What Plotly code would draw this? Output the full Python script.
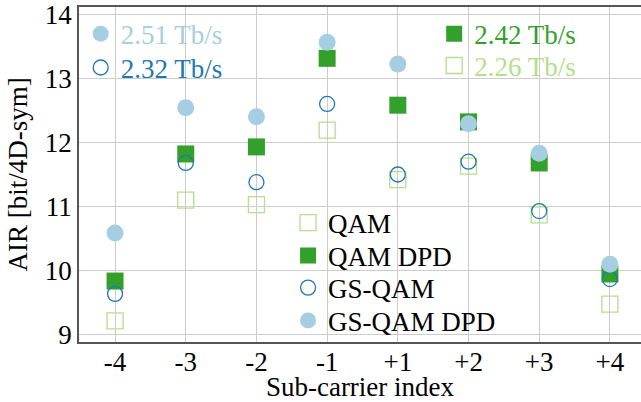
import plotly.graph_objects as go

categories = ["-4", "-3", "-2", "-1", "+1", "+2", "+3", "+4"]
qam = [9.22, 11.10, 11.03, 12.19, 11.42, 11.63, 10.87, 9.48]
qam_dpd = [9.84, 11.82, 11.93, 13.31, 12.58, 12.32, 11.68, 9.95]
gs_qam = [9.64, 11.68, 11.38, 12.60, 11.50, 11.70, 10.93, 9.87]
gs_qam_dpd = [10.59, 12.54, 12.40, 13.56, 13.22, 12.29, 11.83, 10.10]
rate_labels = ["2.51 Tb/s", "2.32 Tb/s", "2.42 Tb/s", "2.26 Tb/s"]
y_ticks = [9, 10, 11, 12, 13, 14]

C_LB = "#a6cee3"
C_DB = "#1f78b4"
C_DG = "#33a02c"
C_LG = "#b2df8a"
FONT = "Liberation Serif"
FS = 27

M_QAM = dict(symbol="square-open", size=16, color=C_LG, line=dict(width=1.3, color=C_LG))
M_QAMD = dict(symbol="square", size=17, color=C_DG, line=dict(width=0))
M_GS = dict(symbol="circle-open", size=15, color=C_DB, line=dict(width=1.3, color=C_DB))
M_GSD = dict(symbol="circle", size=17, color=C_LB, line=dict(width=0))

fig = go.Figure()

fig.add_trace(go.Scatter(x=categories, y=qam, mode="markers", name="QAM",
                         marker=M_QAM, legend="legend"))
fig.add_trace(go.Scatter(x=categories, y=qam_dpd, mode="markers", name="QAM DPD",
                         marker=M_QAMD, legend="legend4"))
fig.add_trace(go.Scatter(x=categories, y=gs_qam, mode="markers", name="GS-QAM",
                         marker=M_GS, legend="legend5"))
fig.add_trace(go.Scatter(x=categories, y=gs_qam_dpd, mode="markers", name="GS-QAM DPD",
                         marker=M_GSD, legend="legend6"))

# rate legends (top)
rate_specs = [(rate_labels[0], C_LB, M_GSD, "legend2"),
              (rate_labels[1], C_DB, M_GS, "legend7"),
              (rate_labels[2], C_DG, M_QAMD, "legend3"),
              (rate_labels[3], C_LG, M_QAM, "legend8")]
for label, col, mk, lg in rate_specs:
    fig.add_trace(go.Scatter(x=[None], y=[None], mode="markers", legend=lg,
                             name=f'<span style="color:{col}">{label}</span>', marker=mk))

lf = dict(family=FONT, size=FS, color="black")


def leg(x, y):
    return dict(x=x, y=y, xanchor="left", yanchor="middle", bgcolor="rgba(0,0,0,0)",
                font=lf, itemsizing="trace", borderwidth=0)


fig.update_layout(
    width=641, height=402,
    margin=dict(l=79, r=0, t=7, b=60, autoexpand=False),
    paper_bgcolor="white", plot_bgcolor="white",
    font=dict(family=FONT, size=FS, color="black"),
    showlegend=True,
    legend=leg(0.372, 0.355),
    legend4=leg(0.372, 0.257),
    legend5=leg(0.372, 0.161),
    legend6=leg(0.372, 0.063),
    legend2=leg(0.003, 0.919),
    legend7=leg(0.003, 0.818),
    legend3=leg(0.632, 0.919),
    legend8=leg(0.632, 0.824),
    xaxis=dict(type="category", categoryorder="array", categoryarray=categories,
               range=[-0.51, 7.44], showgrid=True, gridcolor="#cccccc", gridwidth=1,
               showline=True, linecolor="#555555", linewidth=1.5, mirror=True,
               ticks="", zeroline=False, automargin=False, ticklabelstandoff=-5,
               tickfont=dict(family=FONT, size=FS, color="black"),
               title=dict(text="Sub-carrier index", standoff=15,
                          font=dict(family=FONT, size=FS, color="black"))),
    yaxis=dict(range=[8.89, 14.11], tickvals=y_ticks, showgrid=True, gridcolor="#cccccc",
               gridwidth=1, showline=True, linecolor="#555555", linewidth=1.5, mirror=True,
               ticks="", zeroline=False, automargin=False, ticklabeloverflow="allow",
               tickfont=dict(family=FONT, size=FS, color="black"),
               title=dict(text="AIR [bit/4D-sym]", standoff=9,
                          font=dict(family=FONT, size=FS, color="black"))),
)

# remove the browser's default 8px body margin so the 641x402 figure fills the window
fig.write_html("out.html", config={"displayModeBar": False},
               post_script="document.body.style.margin='0';")
